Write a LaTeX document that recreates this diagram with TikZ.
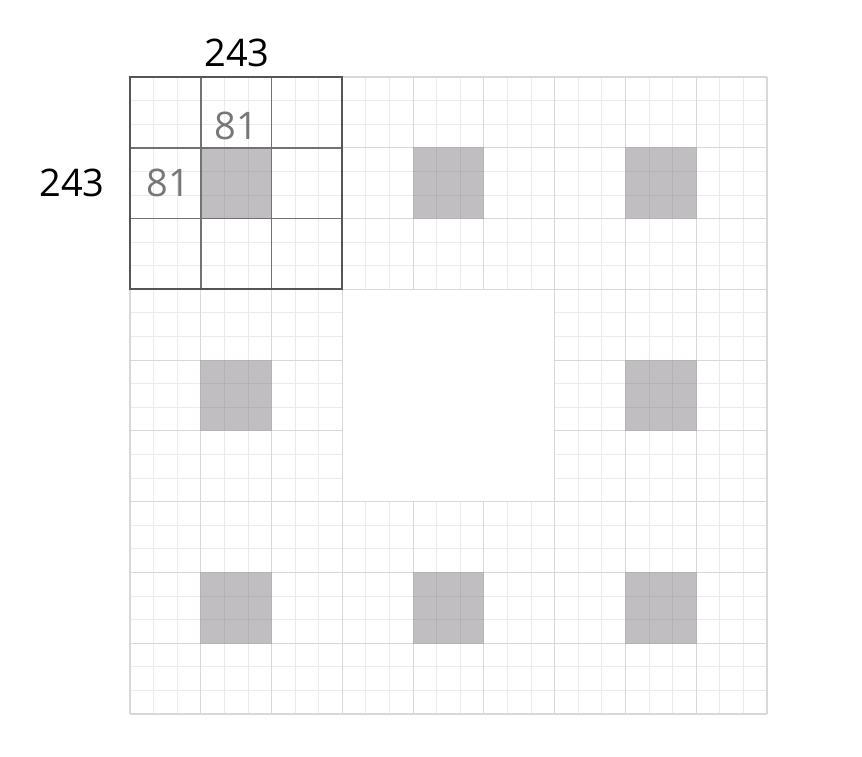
\documentclass[tikz,border=0pt]{standalone}
\usepackage{fontspec}
\setmainfont{Open Sans}
\definecolor{fineC}{HTML}{EBEBEB}
\definecolor{medC}{HTML}{D8D8D8}
\definecolor{greyFill}{HTML}{C0BEC0}
\definecolor{greyLine}{HTML}{B4B2B4}
\definecolor{darkC}{HTML}{555555}
\definecolor{darkIn}{HTML}{727272}
\definecolor{labC}{HTML}{777777}
\tikzset{
  fineline/.style={draw=fineC, line width=0.9pt},
  medline/.style={draw=medC, line width=1.1pt},
  holeline/.style={draw=greyLine, line width=0.9pt},
  darkborder/.style={draw=darkC, line width=2.2pt},
  darkinner/.style={draw=darkIn, line width=1.8pt},
  biglab/.style={font=\fontsize{38}{44}\selectfont, text=black, inner sep=0pt},
  smalllab/.style={font=\fontsize{38}{44}\selectfont, text=labC, inner sep=0pt}
}
\begin{document}
\begin{tikzpicture}[x=1pt,y=-1pt]
\useasboundingbox (0,0) rectangle (862,756);
\fill[white] (0,0) rectangle (862,756);
\def\ox{130}\def\oy{77}\def\s{23.593}
% fine grid
\foreach \i in {0,...,27} {
  \draw[fineline] (\ox+\i*\s,\oy) -- (\ox+\i*\s,\oy+27*\s);
  \draw[fineline] (\ox,\oy+\i*\s) -- (\ox+27*\s,\oy+\i*\s);
}
% medium grid
\foreach \i in {0,3,...,27} {
  \draw[medline] (\ox+\i*\s,\oy) -- (\ox+\i*\s,\oy+27*\s);
  \draw[medline] (\ox,\oy+\i*\s) -- (\ox+27*\s,\oy+\i*\s);
}
% central hole
\fill[white] (\ox+9*\s,\oy+9*\s) rectangle (\ox+18*\s,\oy+18*\s);
\draw[medline] (\ox+9*\s,\oy+9*\s) rectangle (\ox+18*\s,\oy+18*\s);
% grey squares
\foreach \a/\b in {1/1,4/1,7/1,1/4,7/4,1/7,4/7,7/7} {
  \fill[greyFill] (\ox+3*\a*\s,\oy+3*\b*\s) rectangle (\ox+3*\a*\s+3*\s,\oy+3*\b*\s+3*\s);
  \foreach \k in {1,2} {
    \draw[holeline] (\ox+3*\a*\s+\k*\s,\oy+3*\b*\s) -- (\ox+3*\a*\s+\k*\s,\oy+3*\b*\s+3*\s);
    \draw[holeline] (\ox+3*\a*\s,\oy+3*\b*\s+\k*\s) -- (\ox+3*\a*\s+3*\s,\oy+3*\b*\s+\k*\s);
  }
  \draw[holeline] (\ox+3*\a*\s,\oy+3*\b*\s) rectangle (\ox+3*\a*\s+3*\s,\oy+3*\b*\s+3*\s);
}
% dark top-left block
\foreach \k in {1,2} {
  \draw[darkinner] (\ox+3*\k*\s,\oy) -- (\ox+3*\k*\s,\oy+9*\s);
  \draw[darkinner] (\ox,\oy+3*\k*\s) -- (\ox+9*\s,\oy+3*\k*\s);
}
\draw[darkborder] (\ox,\oy) rectangle (\ox+9*\s,\oy+9*\s);
% labels
\node[biglab] (top) at (237,53) {243};
\node[biglab] (left) at (72,183) {243};
\node[smalllab] (tin) at (236,126) {81};
\node[smalllab] (lin) at (168,183) {81};
\end{tikzpicture}
\end{document}
